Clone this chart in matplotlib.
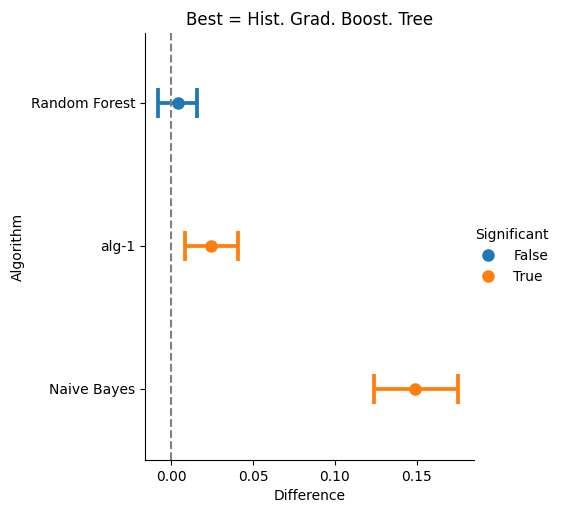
import matplotlib
matplotlib.use("Agg")
import matplotlib.pyplot as plt
from matplotlib.lines import Line2D

algorithms = ["Random Forest", "alg-1", "Naive Bayes"]
mean_diff = [0.0043, 0.0244, 0.1488]
ci_low = [-0.0079, 0.0085, 0.1238]
ci_high = [0.0159, 0.0409, 0.1750]
significant = [False, True, True]
colors = {False: "#1f77b4", True: "#ff7f0e"}

fig = plt.figure(figsize=(5.82, 5.12), dpi=100)
ax = fig.add_axes([145/582, 1-460/512, (474-145)/582, (460-33)/512])
for i, (m, lo, hi, s) in enumerate(zip(mean_diff, ci_low, ci_high, significant)):
    c = colors[s]
    ax.errorbar([m], [i], xerr=[[m-lo], [hi-m]], fmt="o", color=c, ms=8,
                elinewidth=2.7, capsize=11, capthick=2.7)
ax.axvline(0, color="gray", ls="--", lw=1.5)
ax.set_yticks(range(len(algorithms)))
ax.set_yticklabels(algorithms)
ax.set_ylim(2.5, -0.49)
ax.set_xlim(-0.016, 0.185)
ax.set_xticks([0, 0.05, 0.1, 0.15])
ax.set_xticklabels(["0.00", "0.05", "0.10", "0.15"])
ax.spines["top"].set_visible(False)
ax.spines["right"].set_visible(False)
ax.set_xlabel("Difference")
ax.set_ylabel("Algorithm")
ax.set_title("Best = Hist. Grad. Boost. Tree")
handles = [Line2D([], [], marker="o", ls="", color=colors[k], ms=8) for k in (False, True)]
fig.legend(handles, ["False", "True"], title="Significant", frameon=False,
           loc="center left", bbox_to_anchor=(462/582, 0.5))
fig.savefig("out.png")
